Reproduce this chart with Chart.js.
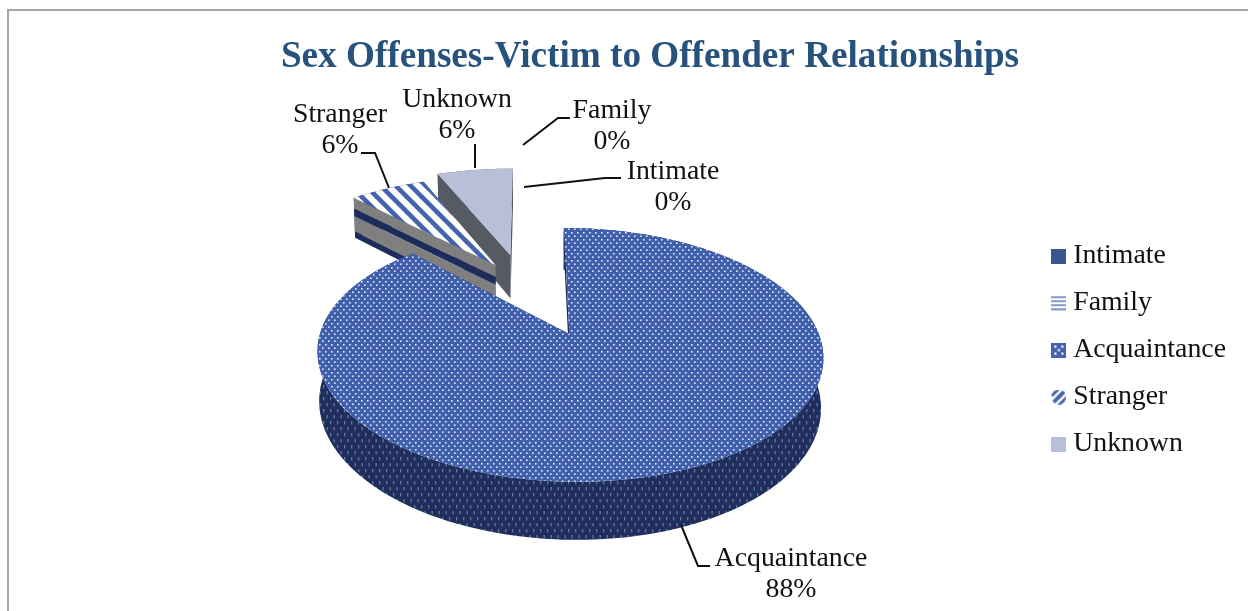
<!DOCTYPE html>
<html><head><meta charset="utf-8">
<style>html,body{margin:0;padding:0;background:#fff;overflow:hidden}canvas{display:block}</style>
<script src="https://cdn.jsdelivr.net/npm/chart.js@4"></script>
</head><body><canvas id="c" width="1248" height="611"></canvas>
<script>
const categories = ['Intimate','Family','Acquaintance','Stranger','Unknown'];
const shares = [0,0,88,6,6];
const chartTitle = 'Sex Offenses-Victim to Offender Relationships';

const FONT = '"Liberation Serif", serif';
const BLUE = '#4463ad';
function tile(w,h,draw){const c=document.createElement('canvas');c.width=w;c.height=h;draw(c.getContext('2d'),w,h);return c;}
const ctx0 = document.getElementById('c').getContext('2d');
const topDots = ctx0.createPattern(tile(6,7,(g)=>{g.fillStyle='#4060ac';g.fillRect(0,0,6,7);g.fillStyle='#dfe8fb';
  g.fillRect(1,1,1.6,1.6);g.fillRect(4,4.4,1.6,1.6);}),'repeat');
const wallDots = ctx0.createPattern(tile(7,12,(g)=>{g.fillStyle='#1f2e5c';g.fillRect(0,0,7,12);g.fillStyle='#66779f';
  g.fillRect(1,1,1.3,3.4);g.fillRect(4.5,7,1.3,3.4);}),'repeat');
const hatch = ctx0.createPattern(tile(15,15,(g)=>{const t=15;g.fillStyle='#fff';g.fillRect(0,0,t,t);g.strokeStyle=BLUE;g.lineWidth=4.6;
  for(let k=-2;k<=2;k++){g.beginPath();g.moveTo(-t,-t+k*t);g.lineTo(2*t,2*t+k*t);g.stroke();}}),'repeat');
const sliceFill = ['#3a5592',BLUE,topDots,hatch,'#b8c0d9'];

const swatches = [
  tile(15,15,(g)=>{g.fillStyle='#3a5592';g.fillRect(0,0,15,15);}),
  tile(15,15,(g)=>{g.fillStyle=BLUE;for(let y=1;y<15;y+=4)g.fillRect(0,y,15,1.3);}),
  tile(15,15,(g)=>{g.fillStyle=BLUE;g.fillRect(0,0,15,15);g.fillStyle='#fff';
    [[3,3],[10,3],[6.5,6.5],[3,10],[10,10]].forEach(([x,y])=>g.fillRect(x,y,2.2,2.2));}),
  tile(15,15,(g)=>{g.save();g.beginPath();g.arc(7.5,7.5,7.5,0,7);g.clip();g.strokeStyle=BLUE;g.lineWidth=4;
    [-7,2,11].forEach(k=>{g.beginPath();g.moveTo(0,15-k+2);g.lineTo(15+2,-k);g.stroke();});g.restore();}),
  tile(15,15,(g)=>{g.fillStyle='#b8c0d9';g.fillRect(0,0,15,15);})
];

/* camera for the tilted 3-D pie */
const cam = {ox:530, oy:293.8, A:240, B:110.7, p:0.155, D:46, taper:0.008};
const explode = [0,0,0.37,0.321,0.377];
const nudgeU = [0,0,0.019,0.022,-0.016];
const widthU = [1,1,0.984,1.02,1.02];
const bands = [[0,0.27,'#7f7f7f'],[0.27,0.45,'#1d2c5a'],[0.45,0.84,'#7f7f7f'],[0.84,1,'#1d2c5a']];
const labelBoxes = [
  {i:0,x:673,y:172,lead:[[524,187],[605,178],[621,178]]},
  {i:1,x:612,y:111,lead:[[523,145],[558,118],[570,118]]},
  {i:2,x:791,y:559,lead:[[681,525],[698,566],[710,566]]},
  {i:3,x:340,y:115,lead:[[361,153],[375,153],[389,188]]},
  {i:4,x:457,y:100,lead:[[475,144],[475,168]]}
];
const legendShift = 39;

function project(U,V,Z){const z=Z||0,w=1+cam.p*V;return [cam.ox+cam.A*U*(1-cam.taper*z)/w, cam.oy-cam.B*V/w+cam.D*z/w];}
function polygon(ctx,pts,fill){ctx.beginPath();pts.forEach((p,k)=>k?ctx.lineTo(p[0],p[1]):ctx.moveTo(p[0],p[1]));ctx.closePath();ctx.fillStyle=fill;ctx.fill();}

const pie3d = {
  id:'pie3d',
  afterLayout(chart){chart.legend.top+=legendShift;chart.legend.bottom+=legendShift;},
  beforeDatasetDraw(chart,args){
    const ctx=chart.ctx, arcs=chart.getDatasetMeta(args.index).data;
    [4,3,2].forEach(i=>{
      if(!shares[i])return;
      const {startAngle:a0,endAngle:a1}=arcs[i].getProps(['startAngle','endAngle'],true);
      const mid=(a0+a1)/2, cu=explode[i]*Math.cos(mid)+nudgeU[i], cv=-explode[i]*Math.sin(mid);
      const rimAt=(a,z)=>project(cu+widthU[i]*Math.cos(a),cv-Math.sin(a),z);
      const apexAt=z=>project(cu,cv,z);
      const n=Math.max(8,Math.ceil((a1-a0)*40));
      const angles=[];for(let k=0;k<=n;k++)angles.push(a0+(a1-a0)*k/n);
      const wallFill=i===2?wallDots:(i===3?'#1d2c5a':'#565a63');
      const cut=(a,fill,zEnd)=>{
        if(i===3){bands.forEach(b=>polygon(ctx,[apexAt(b[0]),rimAt(a,b[0]),rimAt(a,b[1]),apexAt(b[1])],b[2]));}
        else polygon(ctx,[apexAt(0),rimAt(a,0),rimAt(a,zEnd),apexAt(zEnd)],fill);
      };
      const rim=()=>polygon(ctx,angles.map(a=>rimAt(a,0)).concat(angles.slice().reverse().map(a=>rimAt(a,1))),wallFill);
      if(cv<0){cut(a1,'#1b2850',1);cut(a0,'#1b2850',0.5);rim();}
      else{rim();cut(a1,wallFill,1);cut(a0,wallFill,1);}
      polygon(ctx,[apexAt(0)].concat(angles.map(a=>rimAt(a,0))),sliceFill[i]);
    });
    return false;
  },
  afterDraw(chart){
    const ctx=chart.ctx;
    ctx.save();
    ctx.strokeStyle='#a6a6a6';ctx.lineWidth=2;
    ctx.beginPath();ctx.moveTo(8,611);ctx.lineTo(8,10);ctx.lineTo(1248,10);ctx.stroke();
    ctx.font='27.8px '+FONT;ctx.fillStyle='#111';ctx.textAlign='center';ctx.textBaseline='middle';
    labelBoxes.forEach(b=>{
      ctx.fillText(categories[b.i],b.x,b.y);
      ctx.fillText(shares[b.i]+'%',b.x,b.y+31);
      ctx.strokeStyle='#111';ctx.lineWidth=2;ctx.beginPath();
      b.lead.forEach((p,k)=>k?ctx.lineTo(p[0],p[1]):ctx.moveTo(p[0],p[1]));ctx.stroke();
    });
    ctx.restore();
  }
};

new Chart(document.getElementById('c'),{
  type:'pie',
  data:{labels:categories,datasets:[{data:shares,backgroundColor:sliceFill,borderWidth:0}]},
  plugins:[pie3d],
  options:{
    responsive:false,animation:false,
    layout:{padding:{left:64,right:12,top:35,bottom:24}},
    plugins:{
      tooltip:{enabled:false},
      title:{display:true,text:chartTitle,color:'#28527e',font:{family:FONT,size:37.2,weight:'bold'},padding:{top:0,bottom:168}},
      legend:{position:'right',labels:{
        usePointStyle:true,pointStyleWidth:1,boxWidth:15,boxHeight:15,padding:19.2,color:'#111',
        font:{family:FONT,size:27.8},
        generateLabels:()=>categories.map((t,i)=>({text:t,pointStyle:swatches[i],fillStyle:'#000',lineWidth:0,hidden:false,index:i,fontColor:'#111'}))
      }}
    }
  }
});
</script></body></html>
